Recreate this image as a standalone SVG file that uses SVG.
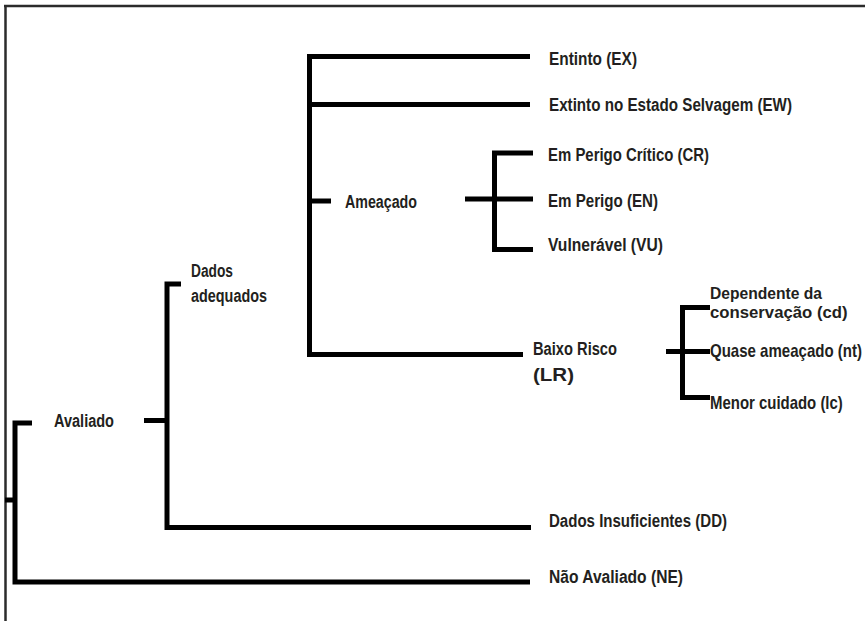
<svg xmlns="http://www.w3.org/2000/svg" width="865" height="621" viewBox="0 0 865 621">
<style>
.frame{stroke:#2b2b2b;stroke-width:2.5;fill:none}
.ln{stroke:#000;stroke-width:5;fill:none;stroke-linecap:butt;stroke-linejoin:miter}
.t{font-family:"Liberation Sans Narrow","Liberation Sans",Arial,sans-serif;font-weight:bold;font-size:18px;fill:#231f20}
</style>
<rect width="865" height="621" fill="#fff"/>
<g id="frame">
<line class="frame" x1="4" y1="6" x2="865" y2="6"/>
<line class="frame" x1="5.5" y1="5" x2="5.5" y2="621"/>
</g>
<g id="connectors">
<line class="ln" x1="5" y1="500" x2="15" y2="500"/>
<polyline class="ln" points="32,423 15,423 15,582 530,582"/>
<line class="ln" x1="144" y1="420.5" x2="167" y2="420.5"/>
<polyline class="ln" points="181,284 167,284 167,527.5 531,527.5"/>
<polyline class="ln" points="530,56.5 309.5,56.5 309.5,354.5 523,354.5"/>
<line class="ln" x1="309.5" y1="104.5" x2="530" y2="104.5"/>
<line class="ln" x1="309.5" y1="201" x2="331" y2="201"/>
<line class="ln" x1="465" y1="199" x2="533" y2="199"/>
<polyline class="ln" points="533,153 494.5,153 494.5,249.5 533,249.5"/>
<line class="ln" x1="666" y1="351.5" x2="710" y2="351.5"/>
<polyline class="ln" points="710,307.5 682.5,307.5 682.5,397.5 710,397.5"/>
</g>
<g id="avaliado"><text class="t" x="54" y="427" textLength="60" lengthAdjust="spacingAndGlyphs">Avaliado</text></g>
<g id="nao-avaliado"><text class="t" x="549" y="583" textLength="134" lengthAdjust="spacingAndGlyphs">Não Avaliado (NE)</text></g>
<g id="dados-adequados"><text class="t" x="191" y="277" textLength="42" lengthAdjust="spacingAndGlyphs">Dados</text><text class="t" x="191" y="302" textLength="76" lengthAdjust="spacingAndGlyphs">adequados</text></g>
<g id="dados-insuficientes"><text class="t" x="549" y="527" textLength="178" lengthAdjust="spacingAndGlyphs">Dados Insuficientes (DD)</text></g>
<g id="entinto"><text class="t" x="549" y="65" textLength="88" lengthAdjust="spacingAndGlyphs">Entinto (EX)</text></g>
<g id="extinto-selvagem"><text class="t" x="549" y="111" textLength="243" lengthAdjust="spacingAndGlyphs">Extinto no Estado Selvagem (EW)</text></g>
<g id="ameacado"><text class="t" x="345" y="208" textLength="72" lengthAdjust="spacingAndGlyphs">Ameaçado</text></g>
<g id="cr"><text class="t" x="548" y="161" textLength="161" lengthAdjust="spacingAndGlyphs">Em Perigo Crítico (CR)</text></g>
<g id="en"><text class="t" x="548" y="207" textLength="110" lengthAdjust="spacingAndGlyphs">Em Perigo (EN)</text></g>
<g id="vu"><text class="t" x="548" y="251" textLength="115" lengthAdjust="spacingAndGlyphs">Vulnerável (VU)</text></g>
<g id="baixo-risco"><text class="t" x="533" y="355" textLength="84" lengthAdjust="spacingAndGlyphs">Baixo Risco</text><text class="t" x="533" y="381" textLength="41" lengthAdjust="spacingAndGlyphs">(LR)</text></g>
<g id="cd" transform="translate(710,0) scale(0.8,1)"><text class="t" x="0" y="299" style="font-size:17px" textLength="140" lengthAdjust="spacingAndGlyphs">Dependente da</text><text class="t" x="0" y="318" style="font-size:17px" textLength="172" lengthAdjust="spacingAndGlyphs">conservação (cd)</text></g>
<g id="nt" transform="translate(710,0) scale(0.8,1)"><text class="t" x="0" y="357" textLength="190" lengthAdjust="spacingAndGlyphs">Quase ameaçado (nt)</text></g>
<g id="lc" transform="translate(710,0) scale(0.8,1)"><text class="t" x="0" y="409" textLength="166" lengthAdjust="spacingAndGlyphs">Menor cuidado (lc)</text></g>
</svg>
